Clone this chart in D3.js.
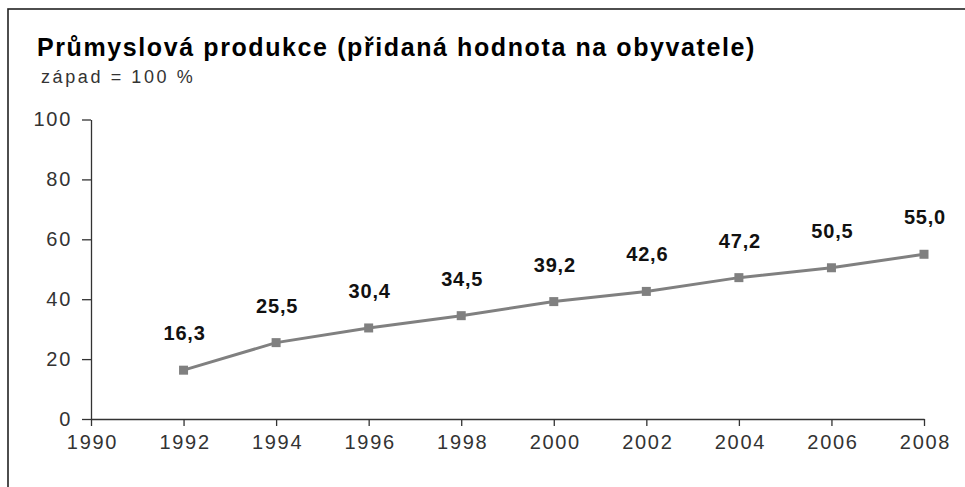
<!DOCTYPE html>
<html><head><meta charset="utf-8">
<script src="https://cdn.jsdelivr.net/npm/d3@7"></script>
<style>body{margin:0;background:#fff}svg{display:block}text{font-family:Arial,"Liberation Sans",sans-serif}</style>
</head><body><svg id="c" width="965" height="487"></svg>
<script>
const years = [1992,1994,1996,1998,2000,2002,2004,2006,2008];
const values = [16.3,25.5,30.4,34.5,39.2,42.6,47.2,50.5,55.0];
const xTicks = [1990,1992,1994,1996,1998,2000,2002,2004,2006,2008];
const yTicks = [0,20,40,60,80,100];
const title = "Průmyslová produkce (přidaná hodnota na obyvatele)";
const subtitle = "západ = 100 %";

const svg = d3.select("#c");
svg.append("rect").attr("x",8).attr("y",9).attr("width",1200).attr("height",1200)
  .attr("fill","none").attr("stroke","#222").attr("stroke-width",1.6);

const x = d3.scaleLinear().domain([1990,2008]).range([91,924]);
const y = d3.scaleLinear().domain([0,100]).range([419,119.5]);

svg.append("text").attr("x",37).attr("y",56).attr("font-size",25).attr("font-weight","bold")
  .attr("letter-spacing","1.6px").attr("fill","#000").text(title);
svg.append("text").attr("x",41).attr("y",83).attr("font-size",18).attr("letter-spacing","2.6px")
  .attr("fill","#333").text(subtitle);

const ya = svg.append("g").attr("transform","translate(91,0)")
  .call(d3.axisLeft(y).tickValues(yTicks).tickSize(9).tickPadding(12).tickSizeOuter(0));
const xa = svg.append("g").attr("transform","translate(0,419)")
  .call(d3.axisBottom(x).tickValues(xTicks).tickFormat(d3.format("d")).tickSize(7).tickPadding(9).tickSizeOuter(0));
[ya,xa].forEach(g=>{
  g.select(".domain").attr("stroke","#333").attr("stroke-width",1.3);
  g.selectAll(".tick line").attr("stroke","#333").attr("stroke-width",1.3);
  g.selectAll(".tick text").attr("font-size",20).attr("fill","#333").attr("letter-spacing","1.7px")
   .attr("font-family","Arial, 'Liberation Sans', sans-serif");
});
ya.selectAll(".tick text").attr("dx","2px");
xa.selectAll(".tick text").attr("dx","1px");

const pts = years.map((yr,i)=>({yr, v:values[i]}));
svg.append("path").datum(pts)
  .attr("d", d3.line().x(d=>x(d.yr)).y(d=>y(d.v)))
  .attr("fill","none").attr("stroke","#808080").attr("stroke-width",3);
svg.selectAll("rect.m").data(pts).enter().append("rect").attr("class","m")
  .attr("x",d=>x(d.yr)-4.5).attr("y",d=>y(d.v)-4.5).attr("width",9).attr("height",9)
  .attr("fill","#808080");
const fmt = v => d3.format(".1f")(v).replace(".",",");
svg.selectAll("text.lbl").data(pts).enter().append("text").attr("class","lbl")
  .attr("x",d=>x(d.yr)+1).attr("y",d=>y(d.v)-30)
  .attr("text-anchor","middle").attr("font-size",20).attr("font-weight","bold")
  .attr("letter-spacing","0.8px").attr("fill","#111").text(d=>fmt(d.v));
</script></body></html>
